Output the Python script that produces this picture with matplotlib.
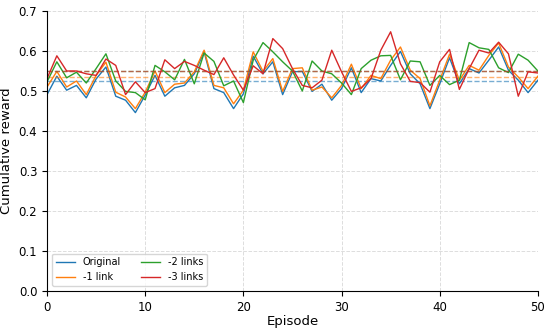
import numpy as np
import matplotlib
matplotlib.use("Agg")
import matplotlib.pyplot as plt

# values (episodes 0..50)
episodes = list(range(51))

original = [0.491, 0.537, 0.502, 0.514, 0.483, 0.530, 0.560, 0.487, 0.477, 0.446,
            0.490, 0.539, 0.487, 0.508, 0.514, 0.543, 0.598, 0.506, 0.496, 0.456,
            0.493, 0.587, 0.543, 0.573, 0.491, 0.548, 0.549, 0.499, 0.517, 0.477,
            0.506, 0.558, 0.496, 0.531, 0.525, 0.564, 0.599, 0.543, 0.518, 0.456,
            0.518, 0.583, 0.518, 0.556, 0.545, 0.577, 0.610, 0.552, 0.527, 0.496,
            0.527]
minus1 = [0.510, 0.549, 0.510, 0.525, 0.491, 0.539, 0.572, 0.497, 0.485, 0.456,
          0.497, 0.550, 0.496, 0.517, 0.520, 0.548, 0.602, 0.514, 0.508, 0.468,
          0.502, 0.598, 0.549, 0.581, 0.499, 0.556, 0.558, 0.502, 0.510, 0.483,
          0.514, 0.567, 0.506, 0.539, 0.531, 0.577, 0.610, 0.552, 0.531, 0.463,
          0.527, 0.592, 0.527, 0.564, 0.552, 0.589, 0.620, 0.560, 0.535, 0.506,
          0.537]
minus2 = [0.523, 0.573, 0.533, 0.547, 0.520, 0.556, 0.593, 0.525, 0.499, 0.496,
          0.478, 0.564, 0.548, 0.528, 0.579, 0.518, 0.595, 0.574, 0.513, 0.525,
          0.471, 0.577, 0.621, 0.598, 0.573, 0.550, 0.500, 0.575, 0.550, 0.543,
          0.520, 0.491, 0.556, 0.577, 0.588, 0.589, 0.528, 0.575, 0.573, 0.514,
          0.539, 0.516, 0.527, 0.621, 0.608, 0.604, 0.558, 0.546, 0.592, 0.577,
          0.550]
minus3 = [0.531, 0.588, 0.550, 0.550, 0.543, 0.539, 0.580, 0.564, 0.491, 0.523,
          0.496, 0.506, 0.578, 0.556, 0.574, 0.564, 0.552, 0.541, 0.583, 0.540,
          0.502, 0.563, 0.543, 0.631, 0.606, 0.556, 0.514, 0.508, 0.527, 0.602,
          0.548, 0.499, 0.508, 0.531, 0.602, 0.648, 0.568, 0.524, 0.521, 0.497,
          0.573, 0.604, 0.504, 0.556, 0.602, 0.595, 0.622, 0.593, 0.487, 0.548,
          0.545]

# dashed average levels
mean_levels = [0.525, 0.535, 0.550, 0.550]

labels = ["Original", "-1 link", "-2 links", "-3 links"]
colors = ["#1f77b4", "#ff7f0e", "#2ca02c", "#d62728"]

fig = plt.figure(figsize=(5.5, 3.33), dpi=100)
ax = fig.add_axes([0.0855, 0.126, 0.8925, 0.841])

for ys, m, lab, c in zip([original, minus1, minus2, minus3], mean_levels, labels, colors):
    ax.plot(episodes, ys, color=c, linewidth=1.0, label=lab)
    ax.axhline(m, color=c, linestyle="--", linewidth=1.0, alpha=0.6)

ax.set_xlim(0, 50)
ax.set_ylim(0, 0.7)
ax.set_xticks([0, 10, 20, 30, 40, 50])
ax.set_yticks(np.arange(0, 0.71, 0.1))
ax.tick_params(labelsize=8.5)
ax.set_xlabel("Episode", fontsize=9.5, labelpad=1)
ax.set_ylabel("Cumulative reward", fontsize=9.5)
ax.grid(True, linestyle="--", color="#dddddd", linewidth=0.7)
ax.spines["top"].set_visible(False)
ax.spines["right"].set_visible(False)

ax.legend(loc="lower left", ncol=2, fontsize=7, framealpha=0.8)

fig.savefig("out.png", dpi=100)
